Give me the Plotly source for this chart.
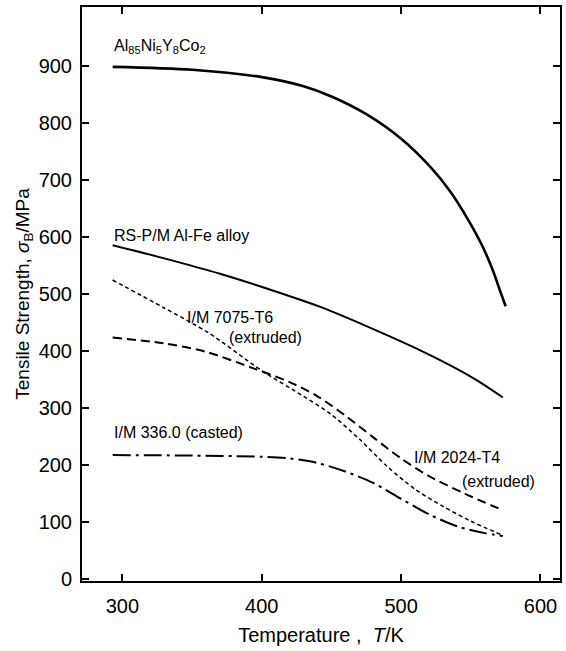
import plotly.graph_objects as go

# ---- data ----
T_al85 = [293, 350, 400, 430, 450, 475, 500, 520, 535, 548, 558, 566, 571, 575]
S_al85 = [898, 893, 880, 864, 846, 815, 772, 725, 680, 630, 585, 540, 505, 478]

T_alfe = [293, 330, 370, 410, 443, 480, 510, 537, 555, 573]
S_alfe = [585, 562, 535, 504, 476, 438, 405, 372, 347, 318]

T_7075 = [293, 330, 362, 400, 430, 450, 470, 490, 510, 530, 550, 573]
S_7075 = [524, 475, 431, 365, 320, 288, 245, 197, 157, 127, 101, 76]

T_2024 = [293, 330, 360, 393, 420, 440, 460, 480, 500, 520, 545, 573]
S_2024 = [423, 413, 398, 370, 345, 320, 286, 248, 211, 180, 150, 120]

T_336 = [293, 350, 400, 420, 440, 460, 480, 500, 520, 540, 560, 573]
S_336 = [217, 216, 214, 211, 203, 188, 168, 140, 113, 92, 80, 75]

x_ticks = [300, 400, 500, 600]
y_ticks = [0, 100, 200, 300, 400, 500, 600, 700, 800, 900]

FONT = "Liberation Sans, Arial, sans-serif"

fig = go.Figure()
fig.add_trace(go.Scatter(x=T_al85, y=S_al85, mode="lines", line=dict(color="black", width=2.6, shape="spline", smoothing=0.8)))
fig.add_trace(go.Scatter(x=T_alfe, y=S_alfe, mode="lines", line=dict(color="black", width=2, shape="spline", smoothing=0.8)))
fig.add_trace(go.Scatter(x=T_7075, y=S_7075, mode="lines", line=dict(color="black", width=1.5, dash="4px,3px", shape="spline", smoothing=0.8)))
fig.add_trace(go.Scatter(x=T_2024, y=S_2024, mode="lines", line=dict(color="black", width=2, dash="9px,5px", shape="spline", smoothing=0.8)))
fig.add_trace(go.Scatter(x=T_336, y=S_336, mode="lines", line=dict(color="black", width=2, dash="18px,5px,3px,5px", shape="spline", smoothing=0.8)))

ann = [
    (292.4, 933, "Al<sub>85</sub>Ni<sub>5</sub>Y<sub>8</sub>Co<sub>2</sub>"),
    (292.4, 603, "RS-P/M Al-Fe alloy"),
    (344.6, 459, "I/M 7075-T6"),
    (375.3, 424, "(extruded)"),
    (507.5, 213, "I/M 2024-T4"),
    (542.5, 171, "(extruded)"),
    (292.4, 257, "I/M 336.0 (casted)"),
]
for x, y, t in ann:
    fig.add_annotation(x=x, y=y, text=t, showarrow=False, xanchor="left", yanchor="middle",
                       font=dict(family=FONT, size=16, color="black"))

axis_common = dict(showgrid=False, zeroline=False, showline=True, linecolor="black", linewidth=2,
                   mirror="allticks", ticks="inside", ticklen=7, tickwidth=1.5, tickcolor="black",
                   tickfont=dict(family=FONT, size=20, color="black"))

fig.update_xaxes(range=[271, 614], tickvals=x_ticks, ticktext=[str(v) for v in x_ticks],
                 title=dict(text="Temperature ,  <i>T</i>/K", font=dict(family=FONT, size=20, color="black"), standoff=12),
                 ticklabelstandoff=6, **axis_common)
fig.update_yaxes(range=[-4, 1003], tickvals=y_ticks, ticktext=[str(v) for v in y_ticks],
                 title=dict(text="Tensile Strength, <i>σ</i><sub>B</sub>/MPa", font=dict(family=FONT, size=19, color="black"), standoff=4),
                 ticklabelstandoff=4, **axis_common)

fig.update_layout(width=566, height=651, margin=dict(l=82, r=4, t=7, b=70),
                  paper_bgcolor="white", plot_bgcolor="white", showlegend=False)

fig.write_html("out.html")
